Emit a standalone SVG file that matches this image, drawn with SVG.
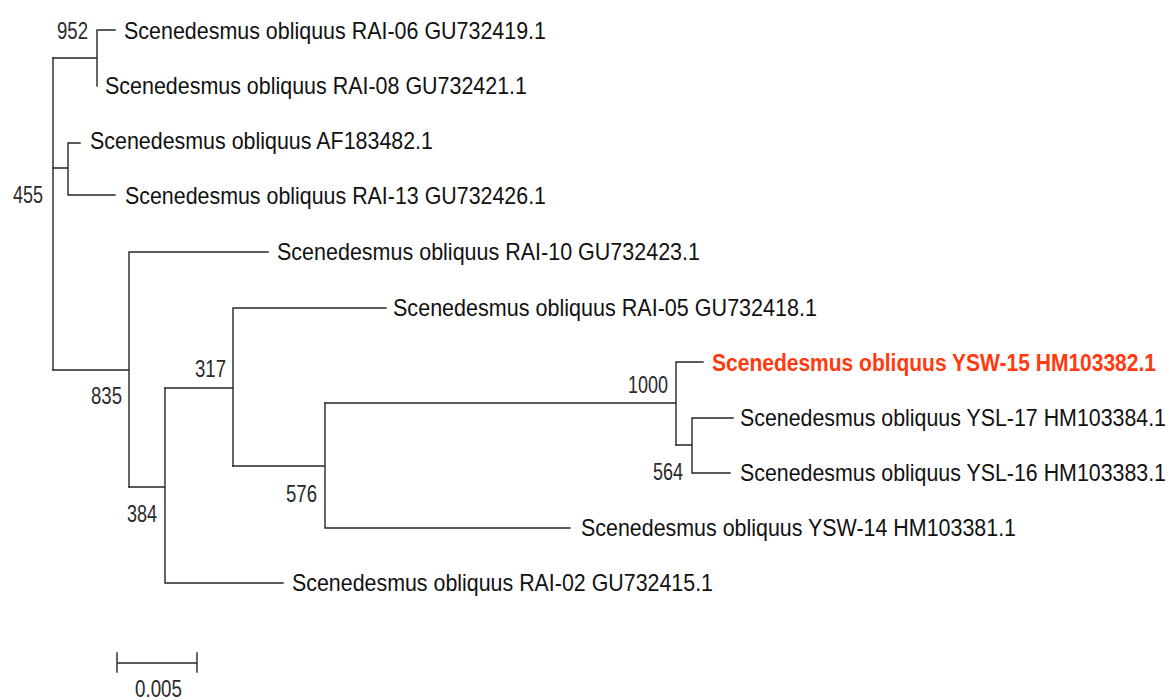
<svg xmlns="http://www.w3.org/2000/svg" width="1173" height="700" viewBox="0 0 1173 700">
<style>
.br{stroke:#262626;stroke-width:1.4;fill:none;stroke-linecap:square}
.lf{font-family:"Liberation Sans",Arial,sans-serif;font-size:21.4px;fill:#111}
.hl{font-family:"Liberation Sans",Arial,sans-serif;font-size:20.5px;font-weight:bold;fill:#ff3a0f}
.bs{font-family:"Liberation Sans",Arial,sans-serif;font-size:24px;fill:#2a2a2a;text-anchor:end}
</style>
<rect width="1173" height="700" fill="#ffffff"/>
<g id="connectors" class="br">
<path d="M53,58V370"/>
<path d="M53,58H97M97,30V86M97,30H115"/>
<path d="M53,168H68M68,143V195M68,143H80M68,195H115"/>
<path d="M53,370H129M129,252V487M129,252H268"/>
<path d="M129,487H165M165,388V583M165,583H283"/>
<path d="M165,388H233M233,308V466M233,308H386"/>
<path d="M233,466H325M325,403V528M325,528H570"/>
<path d="M325,403H676M676,362V445M676,362H703"/>
<path d="M676,445H692M692,418V473M692,418H733M692,473H730"/>
</g>
<g id="bootstrap">
<text class="bs" x="88" y="39" textLength="31" lengthAdjust="spacingAndGlyphs">952</text>
<text class="bs" x="43" y="203" textLength="30" lengthAdjust="spacingAndGlyphs">455</text>
<text class="bs" x="122" y="404" textLength="31" lengthAdjust="spacingAndGlyphs">835</text>
<text class="bs" x="226" y="377" textLength="31" lengthAdjust="spacingAndGlyphs">317</text>
<text class="bs" x="157" y="522" textLength="30" lengthAdjust="spacingAndGlyphs">384</text>
<text class="bs" x="317" y="502" textLength="31" lengthAdjust="spacingAndGlyphs">576</text>
<text class="bs" x="668" y="393" textLength="40" lengthAdjust="spacingAndGlyphs">1000</text>
<text class="bs" x="683" y="480" textLength="30" lengthAdjust="spacingAndGlyphs">564</text>
</g>
<g id="leaf-RAI-06"><text class="lf" transform="translate(124,38.5) scale(1,1.12)" textLength="422" lengthAdjust="spacingAndGlyphs">Scenedesmus obliquus RAI-06 GU732419.1</text></g>
<g id="leaf-RAI-08"><text class="lf" transform="translate(105,94) scale(1,1.12)" textLength="422" lengthAdjust="spacingAndGlyphs">Scenedesmus obliquus RAI-08 GU732421.1</text></g>
<g id="leaf-AF183482"><text class="lf" transform="translate(90,149) scale(1,1.12)" textLength="343" lengthAdjust="spacingAndGlyphs">Scenedesmus obliquus AF183482.1</text></g>
<g id="leaf-RAI-13"><text class="lf" transform="translate(125,203.5) scale(1,1.12)" textLength="421" lengthAdjust="spacingAndGlyphs">Scenedesmus obliquus RAI-13 GU732426.1</text></g>
<g id="leaf-RAI-10"><text class="lf" transform="translate(277,260) scale(1,1.12)" textLength="423" lengthAdjust="spacingAndGlyphs">Scenedesmus obliquus RAI-10 GU732423.1</text></g>
<g id="leaf-RAI-05"><text class="lf" transform="translate(393,316) scale(1,1.12)" textLength="424" lengthAdjust="spacingAndGlyphs">Scenedesmus obliquus RAI-05 GU732418.1</text></g>
<g id="leaf-YSW-15"><text class="hl" transform="translate(712,370.5) scale(1,1.17)" textLength="444" lengthAdjust="spacingAndGlyphs">Scenedesmus obliquus YSW-15 HM103382.1</text></g>
<g id="leaf-YSL-17"><text class="lf" transform="translate(740,426) scale(1,1.12)" textLength="426" lengthAdjust="spacingAndGlyphs">Scenedesmus obliquus YSL-17 HM103384.1</text></g>
<g id="leaf-YSL-16"><text class="lf" transform="translate(740,481) scale(1,1.12)" textLength="426" lengthAdjust="spacingAndGlyphs">Scenedesmus obliquus YSL-16 HM103383.1</text></g>
<g id="leaf-YSW-14"><text class="lf" transform="translate(581,536) scale(1,1.12)" textLength="435" lengthAdjust="spacingAndGlyphs">Scenedesmus obliquus YSW-14 HM103381.1</text></g>
<g id="leaf-RAI-02"><text class="lf" transform="translate(292,591) scale(1,1.12)" textLength="421" lengthAdjust="spacingAndGlyphs">Scenedesmus obliquus RAI-02 GU732415.1</text></g>
<g id="scale-bar">
<path class="br" d="M117,663H197M117,653V672M197,653V672"/>
<text class="bs" x="182" y="697" textLength="47" lengthAdjust="spacingAndGlyphs">0.005</text>
</g>
</svg>
